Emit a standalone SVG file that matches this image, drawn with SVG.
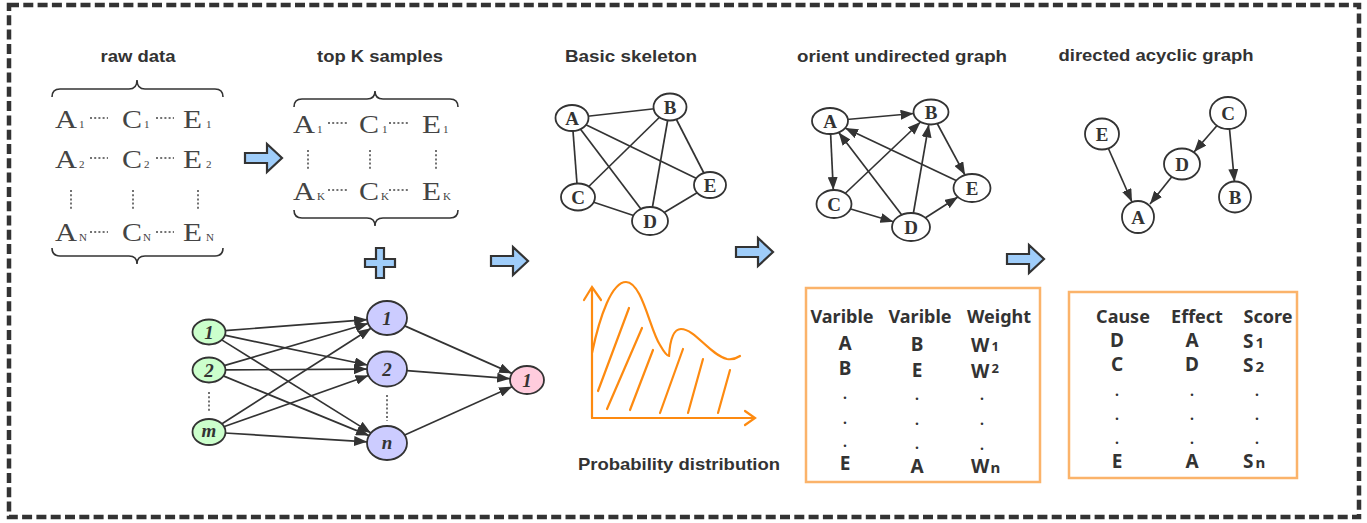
<svg xmlns="http://www.w3.org/2000/svg" width="1367" height="523" viewBox="0 0 1367 523">
<style>
.title{font-family:"Liberation Sans",Arial,sans-serif;font-weight:bold;font-size:17px;fill:#333;text-anchor:middle}
.mx{font-family:"Liberation Serif","Times New Roman",serif;font-size:25px;fill:#444}
.sb{font-family:"Liberation Serif","Times New Roman",serif;font-size:11px;fill:#444}
.dl{stroke:#444;stroke-width:1.5;stroke-dasharray:2 2.2;fill:none}
.brace{fill:none;stroke:#333;stroke-width:1.6}
.blk{fill:#9fcdfa;stroke:#333;stroke-width:2.2;stroke-linejoin:miter}
.nd{fill:#fff;stroke:#333;stroke-width:1.8}
.nl{font-family:"Liberation Serif","Times New Roman",serif;font-weight:bold;font-size:19px;fill:#333;text-anchor:middle}
.nnl{font-family:"Liberation Serif","Times New Roman",serif;font-weight:bold;font-style:italic;font-size:19px;fill:#333;text-anchor:middle}
.e{stroke:#333;stroke-width:1.7;fill:none}
.ea{stroke:#333;stroke-width:1.7;fill:none;marker-end:url(#ah)}
.gr{fill:#ccffcc;stroke:#333;stroke-width:1.8}
.pu{fill:#ccccff;stroke:#333;stroke-width:1.8}
.pk{fill:#ffccdd;stroke:#333;stroke-width:1.8}
.or{fill:none;stroke:#fd8a10;stroke-width:2.2;stroke-linecap:round}
.box{fill:none;stroke:#fbb36a;stroke-width:2.5}
.th{font-family:"Noto Sans","Liberation Sans",sans-serif;font-weight:bold;font-size:18px;fill:#333;text-anchor:middle}
.tc{font-family:"Noto Sans","Liberation Sans",sans-serif;font-weight:bold;font-size:19px;fill:#333;text-anchor:middle}
.ts{font-family:"Noto Sans","Liberation Sans",sans-serif;font-weight:bold;font-size:19px;fill:#333}
.dt{font-family:"Noto Sans","Liberation Sans",sans-serif;font-weight:bold;font-size:14px;fill:#333;text-anchor:middle}
</style>
<defs>
<marker id="ah" viewBox="0 0 13 10" refX="13" refY="5" markerWidth="13" markerHeight="10" orient="auto" markerUnits="userSpaceOnUse"><path d="M0,0 L13,5 L0,10 Z" fill="#333"/></marker>
<path id="barrow" d="M0,-5 H22 V-14 L37,0 L22,14 V5 H0 Z"/>
</defs>

<rect id="frame" x="9" y="5" width="1350" height="512" fill="none" stroke="#333" stroke-width="4.5" stroke-dasharray="10 4.3"/>

<g id="titles">
<text class="title" x="138" y="62" textLength="75" lengthAdjust="spacingAndGlyphs">raw data</text>
<text class="title" x="380" y="62" textLength="126" lengthAdjust="spacingAndGlyphs">top K samples</text>
<text class="title" x="631" y="62" textLength="132" lengthAdjust="spacingAndGlyphs">Basic skeleton</text>
<text class="title" x="902" y="62" textLength="210" lengthAdjust="spacingAndGlyphs">orient undirected graph</text>
<text class="title" x="1156" y="61" textLength="195" lengthAdjust="spacingAndGlyphs">directed acyclic graph</text>
<text class="title" x="679" y="470" textLength="202" lengthAdjust="spacingAndGlyphs">Probability distribution</text>
</g>

<g id="rawdata">
<path class="brace" d="M52,97 Q52,89 60,89 H129 Q137,89 137,80 Q137,89 145,89 H215 Q223,89 223,97"/>
<path class="brace" d="M52,248 Q52,256 60,256 H129 Q137,256 137,264 Q137,256 145,256 H215 Q223,256 223,248"/>
<text class="mx" x="55" y="128" textLength="22" lengthAdjust="spacingAndGlyphs">A</text><text class="sb" x="79" y="128">1</text>
<text class="mx" x="122" y="128" textLength="20" lengthAdjust="spacingAndGlyphs">C</text><text class="sb" x="144" y="128">1</text>
<text class="mx" x="183" y="128" textLength="19" lengthAdjust="spacingAndGlyphs">E</text><text class="sb" x="206" y="128">1</text>
<line class="dl" x1="90" y1="118" x2="108" y2="118"/><line class="dl" x1="156" y1="118" x2="174" y2="118"/>
<text class="mx" x="55" y="168" textLength="22" lengthAdjust="spacingAndGlyphs">A</text><text class="sb" x="79" y="168">2</text>
<text class="mx" x="122" y="168" textLength="20" lengthAdjust="spacingAndGlyphs">C</text><text class="sb" x="144" y="168">2</text>
<text class="mx" x="183" y="168" textLength="19" lengthAdjust="spacingAndGlyphs">E</text><text class="sb" x="206" y="168">2</text>
<line class="dl" x1="90" y1="158" x2="108" y2="158"/><line class="dl" x1="156" y1="158" x2="174" y2="158"/>
<line class="dl" x1="71" y1="190" x2="71" y2="211"/><line class="dl" x1="133" y1="190" x2="133" y2="211"/><line class="dl" x1="198" y1="190" x2="198" y2="211"/>
<text class="mx" x="55" y="241" textLength="22" lengthAdjust="spacingAndGlyphs">A</text><text class="sb" x="79" y="241">N</text>
<text class="mx" x="122" y="241" textLength="20" lengthAdjust="spacingAndGlyphs">C</text><text class="sb" x="143" y="241">N</text>
<text class="mx" x="183" y="241" textLength="19" lengthAdjust="spacingAndGlyphs">E</text><text class="sb" x="206" y="241">N</text>
<line class="dl" x1="90" y1="232" x2="108" y2="232"/><line class="dl" x1="156" y1="232" x2="174" y2="232"/>
</g>

<g id="topk">
<path class="brace" d="M294,107 Q294,99 302,99 H367 Q375,99 375,91 Q375,99 383,99 H450 Q458,99 458,107"/>
<path class="brace" d="M294,210 Q294,218 302,218 H367 Q375,218 375,226 Q375,218 383,218 H450 Q458,218 458,210"/>
<text class="mx" x="293" y="133" textLength="22" lengthAdjust="spacingAndGlyphs">A</text><text class="sb" x="317" y="133">1</text>
<text class="mx" x="359" y="133" textLength="20" lengthAdjust="spacingAndGlyphs">C</text><text class="sb" x="382" y="133">1</text>
<text class="mx" x="422" y="133" textLength="19" lengthAdjust="spacingAndGlyphs">E</text><text class="sb" x="443" y="133">1</text>
<line class="dl" x1="328" y1="123" x2="347" y2="123"/><line class="dl" x1="389" y1="123" x2="408" y2="123"/>
<line class="dl" x1="308" y1="150" x2="308" y2="169"/><line class="dl" x1="370" y1="150" x2="370" y2="169"/><line class="dl" x1="436" y1="150" x2="436" y2="169"/>
<text class="mx" x="293" y="200" textLength="22" lengthAdjust="spacingAndGlyphs">A</text><text class="sb" x="317" y="200">K</text>
<text class="mx" x="359" y="200" textLength="20" lengthAdjust="spacingAndGlyphs">C</text><text class="sb" x="381" y="200">K</text>
<text class="mx" x="422" y="200" textLength="19" lengthAdjust="spacingAndGlyphs">E</text><text class="sb" x="443" y="200">K</text>
<line class="dl" x1="328" y1="190" x2="347" y2="190"/><line class="dl" x1="389" y1="190" x2="408" y2="190"/>
</g>

<g id="blockarrows">
<use href="#barrow" class="blk" x="245" y="158"/>
<use href="#barrow" class="blk" x="491" y="261"/>
<use href="#barrow" class="blk" x="736" y="252"/>
<use href="#barrow" class="blk" x="1007" y="259"/>
<path class="blk" d="M365,259 H376 V248 H384 V259 H395 V267 H384 V278 H376 V267 H365 Z"/>
</g>

<g id="nn-connectors">
<line class="ea" x1="224.9" y1="330.7" x2="367.1" y2="319.6"/>
<line class="ea" x1="224.5" y1="335.2" x2="367.6" y2="365.0"/>
<line class="ea" x1="221.7" y1="339.9" x2="370.9" y2="432.9"/>
<line class="ea" x1="224.1" y1="365.6" x2="368.1" y2="323.5"/>
<line class="ea" x1="225" y1="369.9" x2="367" y2="369.1"/>
<line class="ea" x1="223.3" y1="375.9" x2="369.0" y2="435.6"/>
<line class="ea" x1="221.6" y1="424.0" x2="371.0" y2="328.2"/>
<line class="ea" x1="223.7" y1="426.8" x2="368.5" y2="375.5"/>
<line class="ea" x1="224.9" y1="433.0" x2="367.1" y2="441.8"/>
<line class="ea" x1="404.7" y1="325.9" x2="512.0" y2="373.4"/>
<line class="ea" x1="406.9" y1="370.6" x2="510.1" y2="378.7"/>
<line class="ea" x1="404.7" y1="435.0" x2="512.1" y2="386.7"/>
<line class="dl" x1="209" y1="392" x2="209" y2="411"/>
<line class="dl" x1="387" y1="395" x2="387" y2="421"/>
</g>
<g id="nn-in1"><ellipse class="gr" cx="209" cy="332" rx="16.5" ry="12.5"/><text class="nnl" x="209" y="338.5">1</text></g>
<g id="nn-in2"><ellipse class="gr" cx="209" cy="370" rx="16.5" ry="12.5"/><text class="nnl" x="209" y="376.5">2</text></g>
<g id="nn-inm"><ellipse class="gr" cx="209" cy="432" rx="16.5" ry="13"/><text class="nnl" x="209" y="437">m</text></g>
<g id="nn-h1"><ellipse class="pu" cx="387" cy="318" rx="20" ry="17"/><text class="nnl" x="387" y="324.5">1</text></g>
<g id="nn-h2"><ellipse class="pu" cx="387" cy="369" rx="20" ry="17.5"/><text class="nnl" x="387" y="375.5">2</text></g>
<g id="nn-hn"><ellipse class="pu" cx="387" cy="443" rx="20" ry="17"/><text class="nnl" x="387" y="449">n</text></g>
<g id="nn-out"><ellipse class="pk" cx="527" cy="380" rx="17" ry="14"/><text class="nnl" x="527" y="386.5">1</text></g>

<g id="skeleton-edges">
<line class="e" x1="572" y1="118" x2="670" y2="107"/>
<line class="e" x1="572" y1="118" x2="578" y2="197"/>
<line class="e" x1="572" y1="118" x2="650" y2="221"/>
<line class="e" x1="572" y1="118" x2="710" y2="185"/>
<line class="e" x1="670" y1="107" x2="578" y2="197"/>
<line class="e" x1="670" y1="107" x2="650" y2="221"/>
<line class="e" x1="670" y1="107" x2="710" y2="185"/>
<line class="e" x1="578" y1="197" x2="650" y2="221"/>
<line class="e" x1="650" y1="221" x2="710" y2="185"/>
</g>
<g id="sk-A"><ellipse class="nd" cx="572" cy="118" rx="16.5" ry="13"/><text class="nl" x="572" y="124.5">A</text></g>
<g id="sk-B"><ellipse class="nd" cx="670" cy="107" rx="16.5" ry="13.5"/><text class="nl" x="670" y="113.5">B</text></g>
<g id="sk-C"><ellipse class="nd" cx="578" cy="197" rx="17" ry="13.5"/><text class="nl" x="578" y="203.5">C</text></g>
<g id="sk-D"><ellipse class="nd" cx="650" cy="221" rx="18" ry="14"/><text class="nl" x="650" y="227.5">D</text></g>
<g id="sk-E"><ellipse class="nd" cx="710" cy="185" rx="16" ry="13"/><text class="nl" x="710" y="191.5">E</text></g>

<g id="probability">
<path class="or" d="M592,418 V287 M584,300 L592,287 L601,300"/>
<path class="or" d="M592,418 H755 M745,411 L755,418 L745,425"/>
<path class="or" d="M592,353 C600,315 612,282 626,282 C642,282 650,330 660,345 C664,352 667,356 669,356 C670,340 673,329 681,329 C695,329 710,355 727,359 C733,360 737,358 740,356"/>
<path class="or" d="M598,391 L629,308 M607,409 L642,328 M630,410 L653,350 M660,413 L683,349 M688,413 L703,359 M718,413 L730,370"/>
</g>

<g id="orient-edges">
<line class="ea" x1="830" y1="121" x2="913.6" y2="113.5"/>
<line class="ea" x1="830" y1="121" x2="833.3" y2="190"/>
<line class="ea" x1="931" y1="112" x2="965" y2="175.1"/>
<line class="ea" x1="834" y1="204" x2="920.5" y2="122"/>
<line class="ea" x1="834" y1="204" x2="893.4" y2="221.7"/>
<line class="ea" x1="911" y1="227" x2="838.7" y2="132.4"/>
<line class="ea" x1="911" y1="227" x2="928.8" y2="124.4"/>
<line class="ea" x1="911" y1="227" x2="957.9" y2="197"/>
<line class="ea" x1="972" y1="188" x2="845.1" y2="128.1"/>
</g>
<g id="or-A"><ellipse class="nd" cx="830" cy="121" rx="18" ry="13"/><text class="nl" x="830" y="127.5">A</text></g>
<g id="or-B"><ellipse class="nd" cx="931" cy="112" rx="17.5" ry="12.5"/><text class="nl" x="931" y="118.5">B</text></g>
<g id="or-C"><ellipse class="nd" cx="834" cy="204" rx="17.5" ry="14"/><text class="nl" x="834" y="210.5">C</text></g>
<g id="or-D"><ellipse class="nd" cx="911" cy="227" rx="19" ry="14"/><text class="nl" x="911" y="233.5">D</text></g>
<g id="or-E"><ellipse class="nd" cx="972" cy="188" rx="18.5" ry="14"/><text class="nl" x="972" y="194.5">E</text></g>

<g id="dag-edges">
<line class="ea" x1="1102" y1="134" x2="1132" y2="202"/>
<line class="ea" x1="1182" y1="164" x2="1150" y2="204"/>
<line class="ea" x1="1228" y1="113" x2="1194" y2="152"/>
<line class="ea" x1="1228" y1="113" x2="1234.5" y2="182"/>
</g>
<g id="dag-E"><ellipse class="nd" cx="1102" cy="134" rx="17" ry="15.5"/><text class="nl" x="1102" y="140.5">E</text></g>
<g id="dag-C"><ellipse class="nd" cx="1228" cy="113" rx="18" ry="16"/><text class="nl" x="1228" y="119.5">C</text></g>
<g id="dag-D"><ellipse class="nd" cx="1182" cy="164" rx="18" ry="15.5"/><text class="nl" x="1182" y="170.5">D</text></g>
<g id="dag-B"><ellipse class="nd" cx="1235" cy="197" rx="16" ry="15.5"/><text class="nl" x="1235" y="203.5">B</text></g>
<g id="dag-A"><ellipse class="nd" cx="1138" cy="217" rx="16" ry="16"/><text class="nl" x="1138" y="223.5">A</text></g>

<g id="weight-table">
<rect class="box" x="806" y="288" width="234" height="194"/>
<text class="th" x="842" y="323">Varible</text>
<text class="th" x="920" y="323">Varible</text>
<text class="th" x="999" y="323">Weight</text>
<text class="tc" x="845" y="350">A</text>
<text class="tc" x="917" y="351">B</text>
<text class="ts" x="971" y="352">W<tspan font-size="13" dx="2" dy="-1">1</tspan></text>
<text class="tc" x="845" y="375">B</text>
<text class="tc" x="917" y="377">E</text>
<text class="ts" x="971" y="378">W<tspan font-size="13" dx="2" dy="-5">2</tspan></text>
<text class="dt" x="845" y="399">.</text><text class="dt" x="917" y="400">.</text><text class="dt" x="982" y="400">.</text>
<text class="dt" x="845" y="424">.</text><text class="dt" x="917" y="425">.</text><text class="dt" x="982" y="425">.</text>
<text class="dt" x="845" y="447">.</text><text class="dt" x="917" y="449">.</text><text class="dt" x="982" y="450">.</text>
<text class="tc" x="845" y="470">E</text>
<text class="tc" x="917" y="473">A</text>
<text class="ts" x="971" y="473">W<tspan font-size="15" dx="1">n</tspan></text>
</g>

<g id="score-table">
<rect class="box" x="1069" y="292" width="228" height="186"/>
<text class="th" x="1123" y="323">Cause</text>
<text class="th" x="1197" y="323">Effect</text>
<text class="th" x="1268" y="323">Score</text>
<text class="tc" x="1117" y="347">D</text>
<text class="tc" x="1192" y="347">A</text>
<text class="ts" x="1243" y="348">S<tspan font-size="15" dx="2">1</tspan></text>
<text class="tc" x="1117" y="371">C</text>
<text class="tc" x="1192" y="371">D</text>
<text class="ts" x="1243" y="372">S<tspan font-size="15" dx="2">2</tspan></text>
<text class="dt" x="1117" y="396">.</text><text class="dt" x="1192" y="396">.</text><text class="dt" x="1257" y="396">.</text>
<text class="dt" x="1117" y="420">.</text><text class="dt" x="1192" y="420">.</text><text class="dt" x="1257" y="420">.</text>
<text class="dt" x="1117" y="444">.</text><text class="dt" x="1192" y="444">.</text><text class="dt" x="1257" y="444">.</text>
<text class="tc" x="1117" y="468">E</text>
<text class="tc" x="1192" y="468">A</text>
<text class="ts" x="1243" y="468">S<tspan font-size="15" dx="2">n</tspan></text>
</g>
</svg>
